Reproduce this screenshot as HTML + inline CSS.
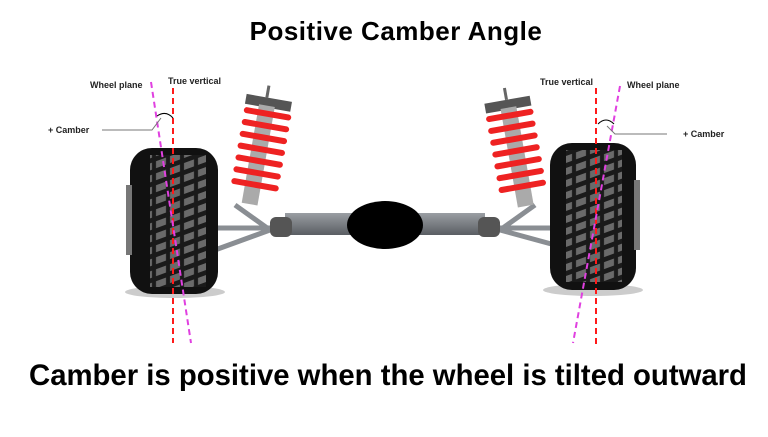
<!DOCTYPE html>
<html><head><style>
body{margin:0;width:768px;height:432px;background:#fff;overflow:hidden;font-family:"Liberation Sans",sans-serif}
</style></head><body>
<svg width="768" height="432" viewBox="0 0 768 432" xmlns="http://www.w3.org/2000/svg">
<defs>
<pattern id="tread" width="14" height="12" patternUnits="userSpaceOnUse" patternTransform="skewY(-20)">
<rect width="14" height="12" fill="#1a1a1a"/>
<rect x="2" y="2" width="10" height="7" fill="#6a6a6a"/>
</pattern>
<linearGradient id="ax" x1="0" y1="0" x2="0" y2="1"><stop offset="0" stop-color="#9a9ea3"/><stop offset="1" stop-color="#5a5e63"/></linearGradient>
</defs>
<text x="396" y="40" text-anchor="middle" font-size="26" font-weight="bold" letter-spacing="0.5" fill="#000">Positive Camber Angle</text>
<text x="388" y="385" text-anchor="middle" font-size="29.3" font-weight="bold" fill="#000">Camber is positive when the wheel is tilted outward</text>

<rect x="285" y="213" width="200" height="22" fill="url(#ax)"/>
<ellipse cx="385" cy="225" rx="38" ry="24" fill="#000"/>
<g stroke="#8a8e93" stroke-width="5" fill="none">
<line x1="215" y1="228" x2="270" y2="228"/><line x1="215" y1="250" x2="270" y2="230"/><line x1="235" y1="205" x2="270" y2="230"/>
<line x1="500" y1="228" x2="555" y2="228"/><line x1="500" y1="230" x2="555" y2="245"/><line x1="500" y1="230" x2="535" y2="205"/>
</g>
<rect x="270" y="217" width="22" height="20" rx="6" fill="#555"/>
<rect x="478" y="217" width="22" height="20" rx="6" fill="#555"/>
<g transform="rotate(10 260 145)">
<rect x="257" y="85" width="3" height="12" fill="#666"/>
<rect x="238" y="97" width="46" height="10" fill="#555"/>
<rect x="252" y="105" width="16" height="100" fill="#aaa"/>
<g fill="#ee2222">
<rect x="238" y="110" width="48" height="6" rx="3"/><rect x="238" y="122" width="48" height="6" rx="3"/><rect x="238" y="134" width="48" height="6" rx="3"/><rect x="238" y="146" width="48" height="6" rx="3"/><rect x="238" y="158" width="48" height="6" rx="3"/><rect x="238" y="170" width="48" height="6" rx="3"/><rect x="238" y="182" width="48" height="6" rx="3"/>
</g></g>
<g transform="rotate(-10 515 145)">
<rect x="513" y="87" width="3" height="12" fill="#666"/>
<rect x="492" y="99" width="46" height="10" fill="#555"/>
<rect x="507" y="107" width="16" height="100" fill="#aaa"/>
<g fill="#ee2222">
<rect x="491" y="112" width="48" height="6" rx="3"/><rect x="491" y="124" width="48" height="6" rx="3"/><rect x="491" y="136" width="48" height="6" rx="3"/><rect x="491" y="148" width="48" height="6" rx="3"/><rect x="491" y="160" width="48" height="6" rx="3"/><rect x="491" y="172" width="48" height="6" rx="3"/><rect x="491" y="184" width="48" height="6" rx="3"/>
</g></g>
<ellipse cx="175" cy="292" rx="50" ry="6" fill="#ccc"/>
<rect x="130" y="148" width="88" height="146" rx="22" fill="#111"/>
<rect x="150" y="155" width="56" height="132" fill="url(#tread)"/>
<rect x="126" y="185" width="6" height="70" fill="#777"/>
<ellipse cx="593" cy="290" rx="50" ry="6" fill="#ccc"/>
<rect x="550" y="143" width="86" height="147" rx="22" fill="#111"/>
<rect x="566" y="150" width="56" height="132" fill="url(#tread)"/>
<rect x="634" y="180" width="6" height="70" fill="#777"/>
<g fill="none" stroke-width="2" stroke-dasharray="6,4">
<line x1="173" y1="88" x2="173" y2="343" stroke="#ff1a1a"/>
<line x1="151" y1="82" x2="191" y2="343" stroke="#e040e0"/>
<line x1="596" y1="88" x2="596" y2="345" stroke="#ff1a1a"/>
<line x1="620" y1="86" x2="573" y2="343" stroke="#e040e0"/>
</g>
<g fill="none" stroke="#000" stroke-width="1">
<path d="M157 116 Q166 110 173 118"/><path d="M598 124 Q606 116 614 124"/>
</g>
<g fill="none" stroke="#777" stroke-width="1">
<polyline points="102,130 152,130 161,118"/>
<polyline points="607,126 615,134 667,134"/>
</g>
<g font-size="9" font-weight="bold" fill="#222">
<text x="90" y="88">Wheel plane</text>
<text x="168" y="84">True vertical</text>
<text x="48" y="133">+ Camber</text>
<text x="540" y="85">True vertical</text>
<text x="627" y="88">Wheel plane</text>
<text x="683" y="137">+ Camber</text>
</g>
</svg>
</body></html>
